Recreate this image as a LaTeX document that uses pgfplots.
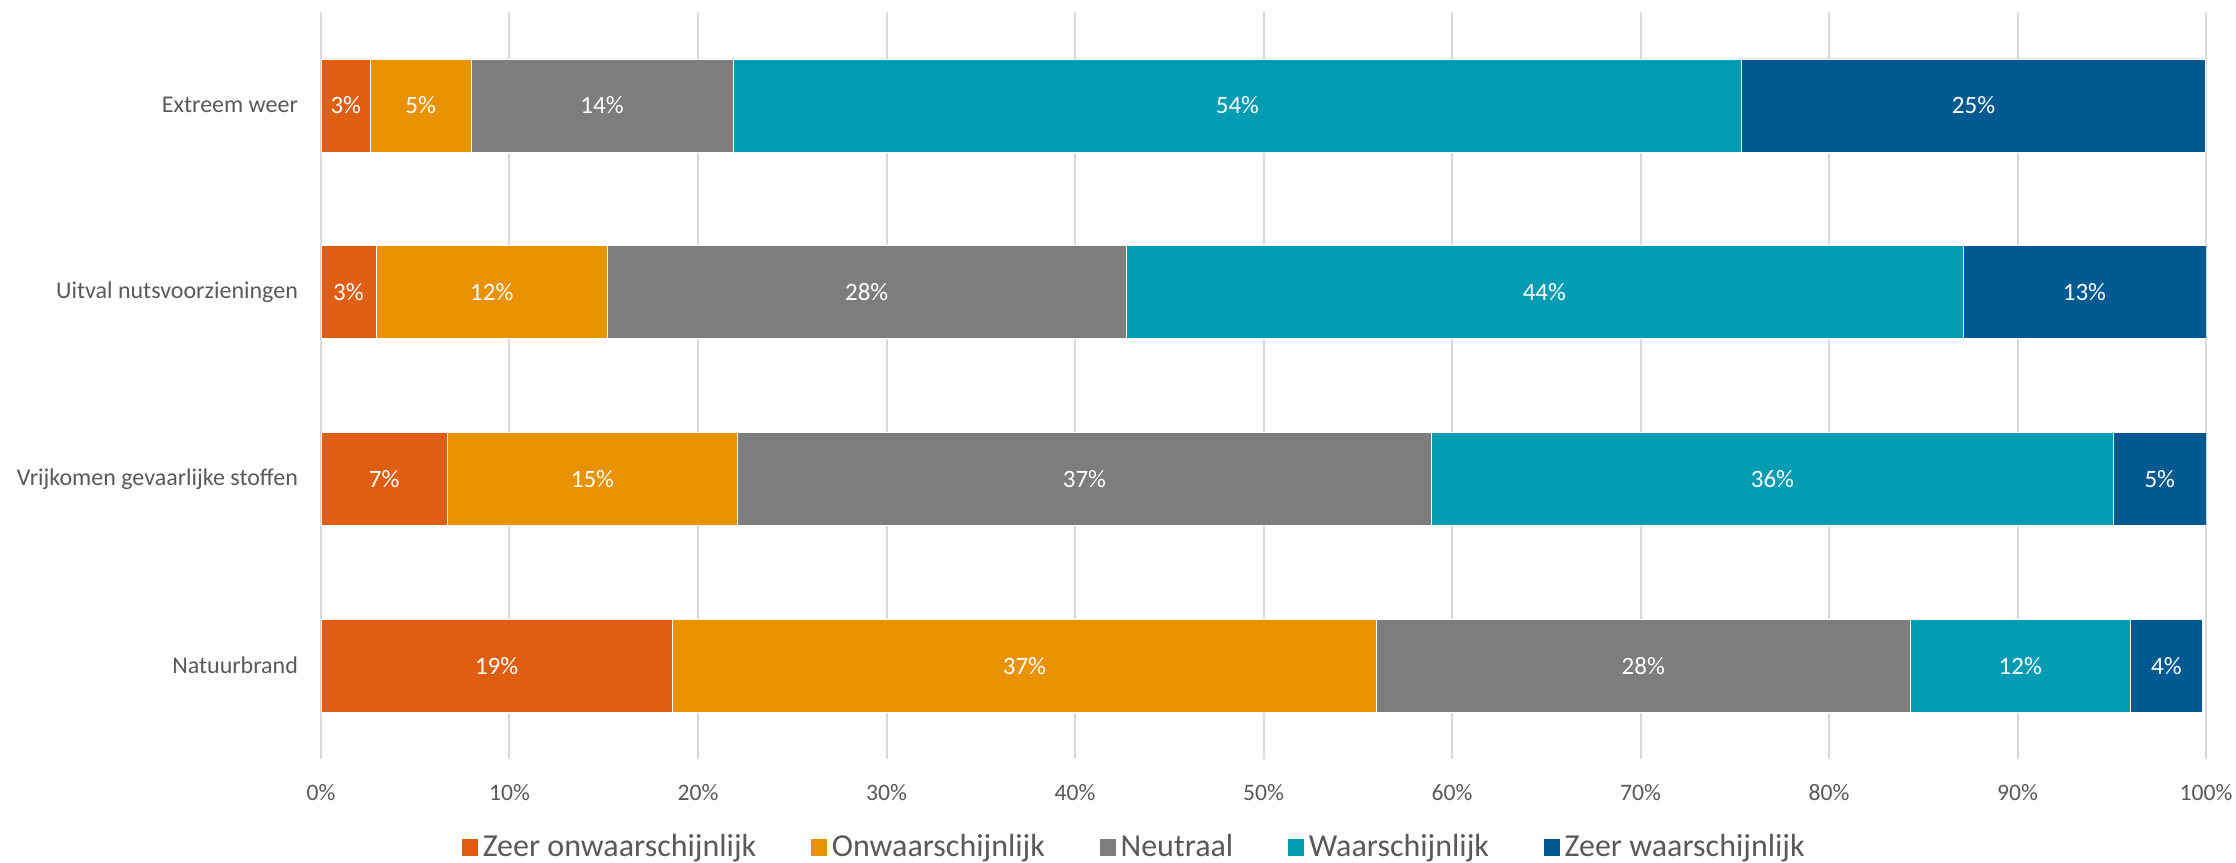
\documentclass[border=0pt]{standalone}
\usepackage{pgfplots}
\pgfplotsset{compat=1.18}
\usepackage{fontspec}
\setmainfont{Carlito}
\definecolor{c1}{HTML}{E05E12}
\definecolor{c2}{HTML}{EA9100}
\definecolor{c3}{HTML}{7D7D7B}
\definecolor{c4}{HTML}{009CB4}
\definecolor{c5}{HTML}{005A91}
\definecolor{txt}{HTML}{595959}
\definecolor{grd}{HTML}{D9D9D9}
\begin{document}
\begin{tikzpicture}
\useasboundingbox (-160.5pt,-51.5pt) rectangle (957.5pt,379.5pt);
\begin{axis}[
  at={(0pt,0pt)}, anchor=south west,
  scale only axis, width=942.5pt, height=373.5pt,
  xbar stacked, bar width=46.5pt,
  xmin=0, xmax=100, ymin=-0.5, ymax=3.5,
  xtick={0,10,...,100},
  xticklabel={\pgfmathprintnumber{\tick}\%},
  ytick={0,1,2,3},
  yticklabels={Natuurbrand,Vrijkomen gevaarlijke stoffen,Uitval nutsvoorzieningen,Extreem weer},
  axis line style={draw=none},
  major tick length=0pt,
  xmajorgrids, grid style={draw=grd, line width=1pt},
  tick label style={text=txt},
  xticklabel style={font=\fontsize{11.8}{14}\selectfont, yshift=-9pt},
  yticklabel style={font=\fontsize{12}{14}\selectfont, xshift=-8pt},
  /pgf/number format/assume math mode=true,
  point meta=rawx,
  nodes near coords={\pgfmathprintnumber[fixed,precision=0]{\pgfplotspointmeta}\%},
  every node near coord/.append style={anchor=center, text=white, font=\fontsize{12.5}{15}\selectfont},
  legend style={at={(0.4318,-0.1178)}, anchor=center, draw=none, font=\fontsize{16}{19}\selectfont, text=txt, legend columns=5, /tikz/every even column/.append style={column sep=25pt}},
  legend image code/.code={\fill[#1] (0pt,-4.5pt) rectangle (8.5pt,4.5pt);},
]
\addplot[fill=c1, draw=white, line width=0.3pt] coordinates {(18.64,0) (6.7,1) (2.92,2) (2.63,3)};
\addplot[fill=c2, draw=white, line width=0.3pt] coordinates {(37.36,0) (15.4,1) (12.28,2) (5.32,3)};
\addplot[fill=c3, draw=white, line width=0.3pt] coordinates {(28.3,0) (36.8,1) (27.5,2) (13.92,3)};
\addplot[fill=c4, draw=white, line width=0.3pt] coordinates {(11.7,0) (36.2,1) (44.4,2) (53.5,3)};
\addplot[fill=c5, draw=white, line width=0.3pt] coordinates {(3.8,0) (4.9,1) (12.9,2) (24.6,3)};
\legend{Zeer onwaarschijnlijk, Onwaarschijnlijk, Neutraal, Waarschijnlijk, Zeer waarschijnlijk}
\end{axis}
\end{tikzpicture}
\end{document}
